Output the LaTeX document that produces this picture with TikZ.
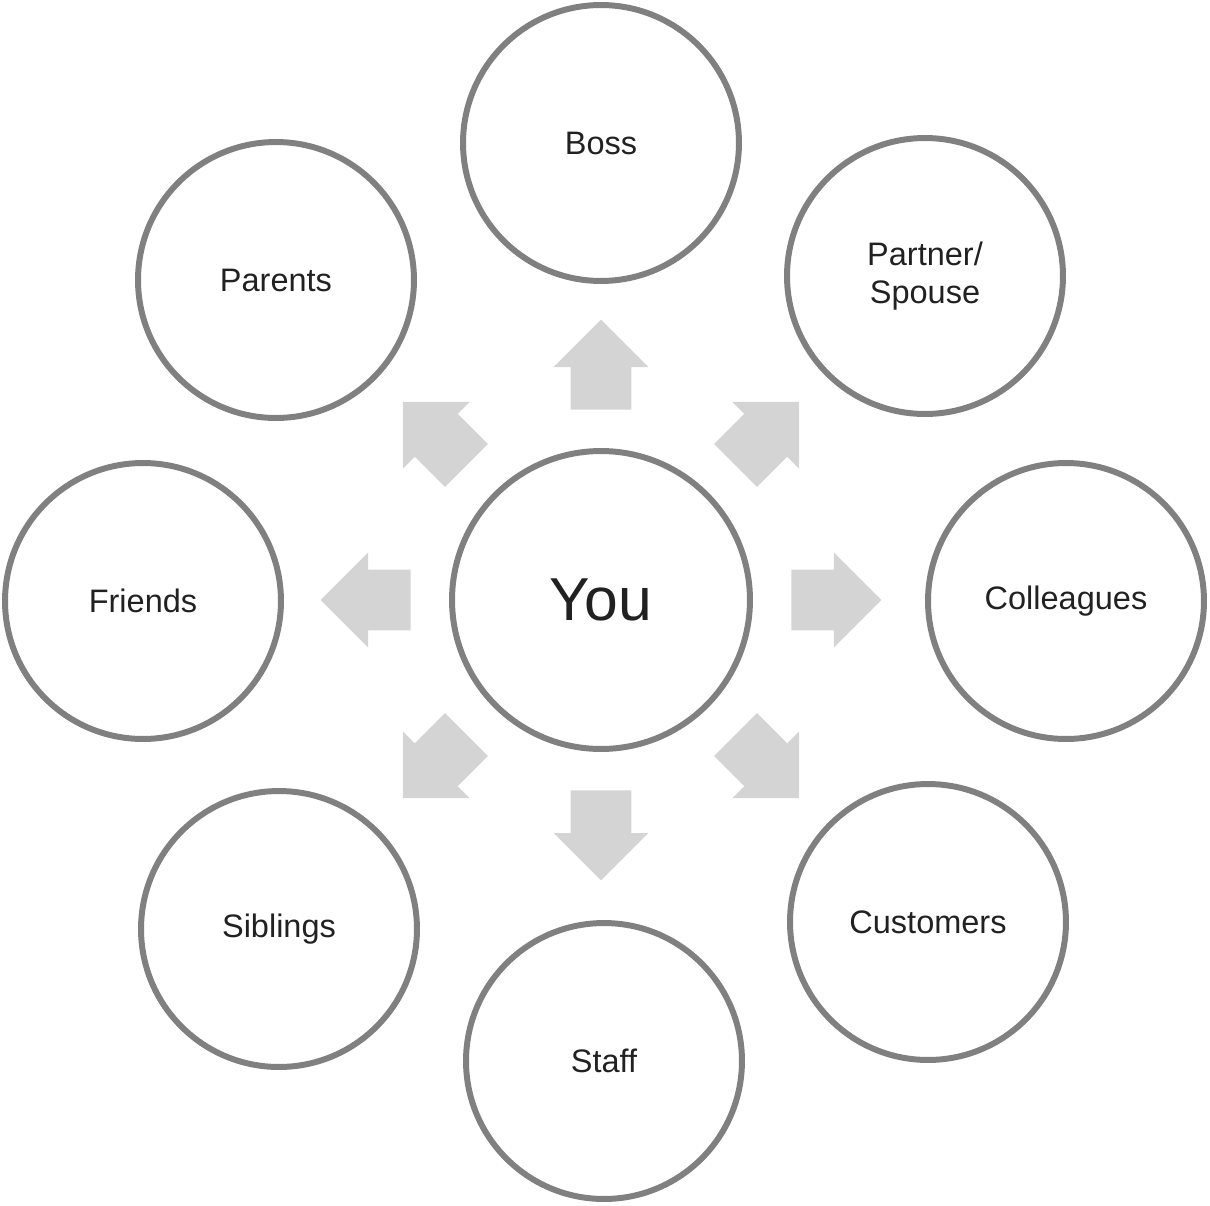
\documentclass[tikz,border=0pt]{standalone}
\usepackage{fontspec}
\setmainfont{Liberation Sans}
\usepackage{xcolor}
\usepackage{tikz}
\usetikzlibrary{shapes.arrows}
\definecolor{ringgray}{gray}{0.5}
\definecolor{arrowgray}{gray}{0.83}
\definecolor{labelgray}{gray}{0.13}
\tikzset{
  person/.style={circle, draw=ringgray, line width=3.4pt, minimum size=5.52cm,
                 inner sep=0pt, align=center, text=labelgray,
                 font=\fontsize{18.5}{21.8}\selectfont},
  self/.style={person, minimum size=5.96cm, font=\fontsize{34.5}{41}\selectfont},
  push/.style={single arrow, fill=arrowgray, draw=none, inner xsep=0pt,
               inner ysep=0.6cm, minimum height=1.8cm,
               single arrow head extend=0.34cm, anchor=tail},
}

\begin{document}
\begin{tikzpicture}[x=0.02cm, y=0.02cm]
\useasboundingbox (-601,-605) rectangle (609,600);
\node[self] (you) at (0,0) {You};
\node[person] (boss) at (0,457) {Boss};
\node[person] (partner) at (324,324) {Partner/\\Spouse};
\node[person] (colleagues) at (465,-1) {Colleagues};
\node[person] (customers) at (327,-322) {Customers};
\node[person] (staff) at (3,-461) {Staff};
\node[person] (siblings) at (-322,-329) {Siblings};
\node[person] (friends) at (-458,-1) {Friends};
\node[person] (parents) at (-325,320) {Parents};
% block arrows out of the centre
\node[push, rotate=90] (toBoss) at ([shift={(90:190)}]you.center) {};
\node[push, rotate=45] (toPartner) at ([shift={(45:190)}]you.center) {};
\node[push, rotate=0] (toColleagues) at ([shift={(0:190)}]you.center) {};
\node[push, rotate=-45] (toCustomers) at ([shift={(-45:190)}]you.center) {};
\node[push, rotate=-90] (toStaff) at ([shift={(-90:190)}]you.center) {};
\node[push, rotate=-135] (toSiblings) at ([shift={(-135:190)}]you.center) {};
\node[push, rotate=180] (toFriends) at ([shift={(180:190)}]you.center) {};
\node[push, rotate=135] (toParents) at ([shift={(135:190)}]you.center) {};
\end{tikzpicture}
\end{document}
